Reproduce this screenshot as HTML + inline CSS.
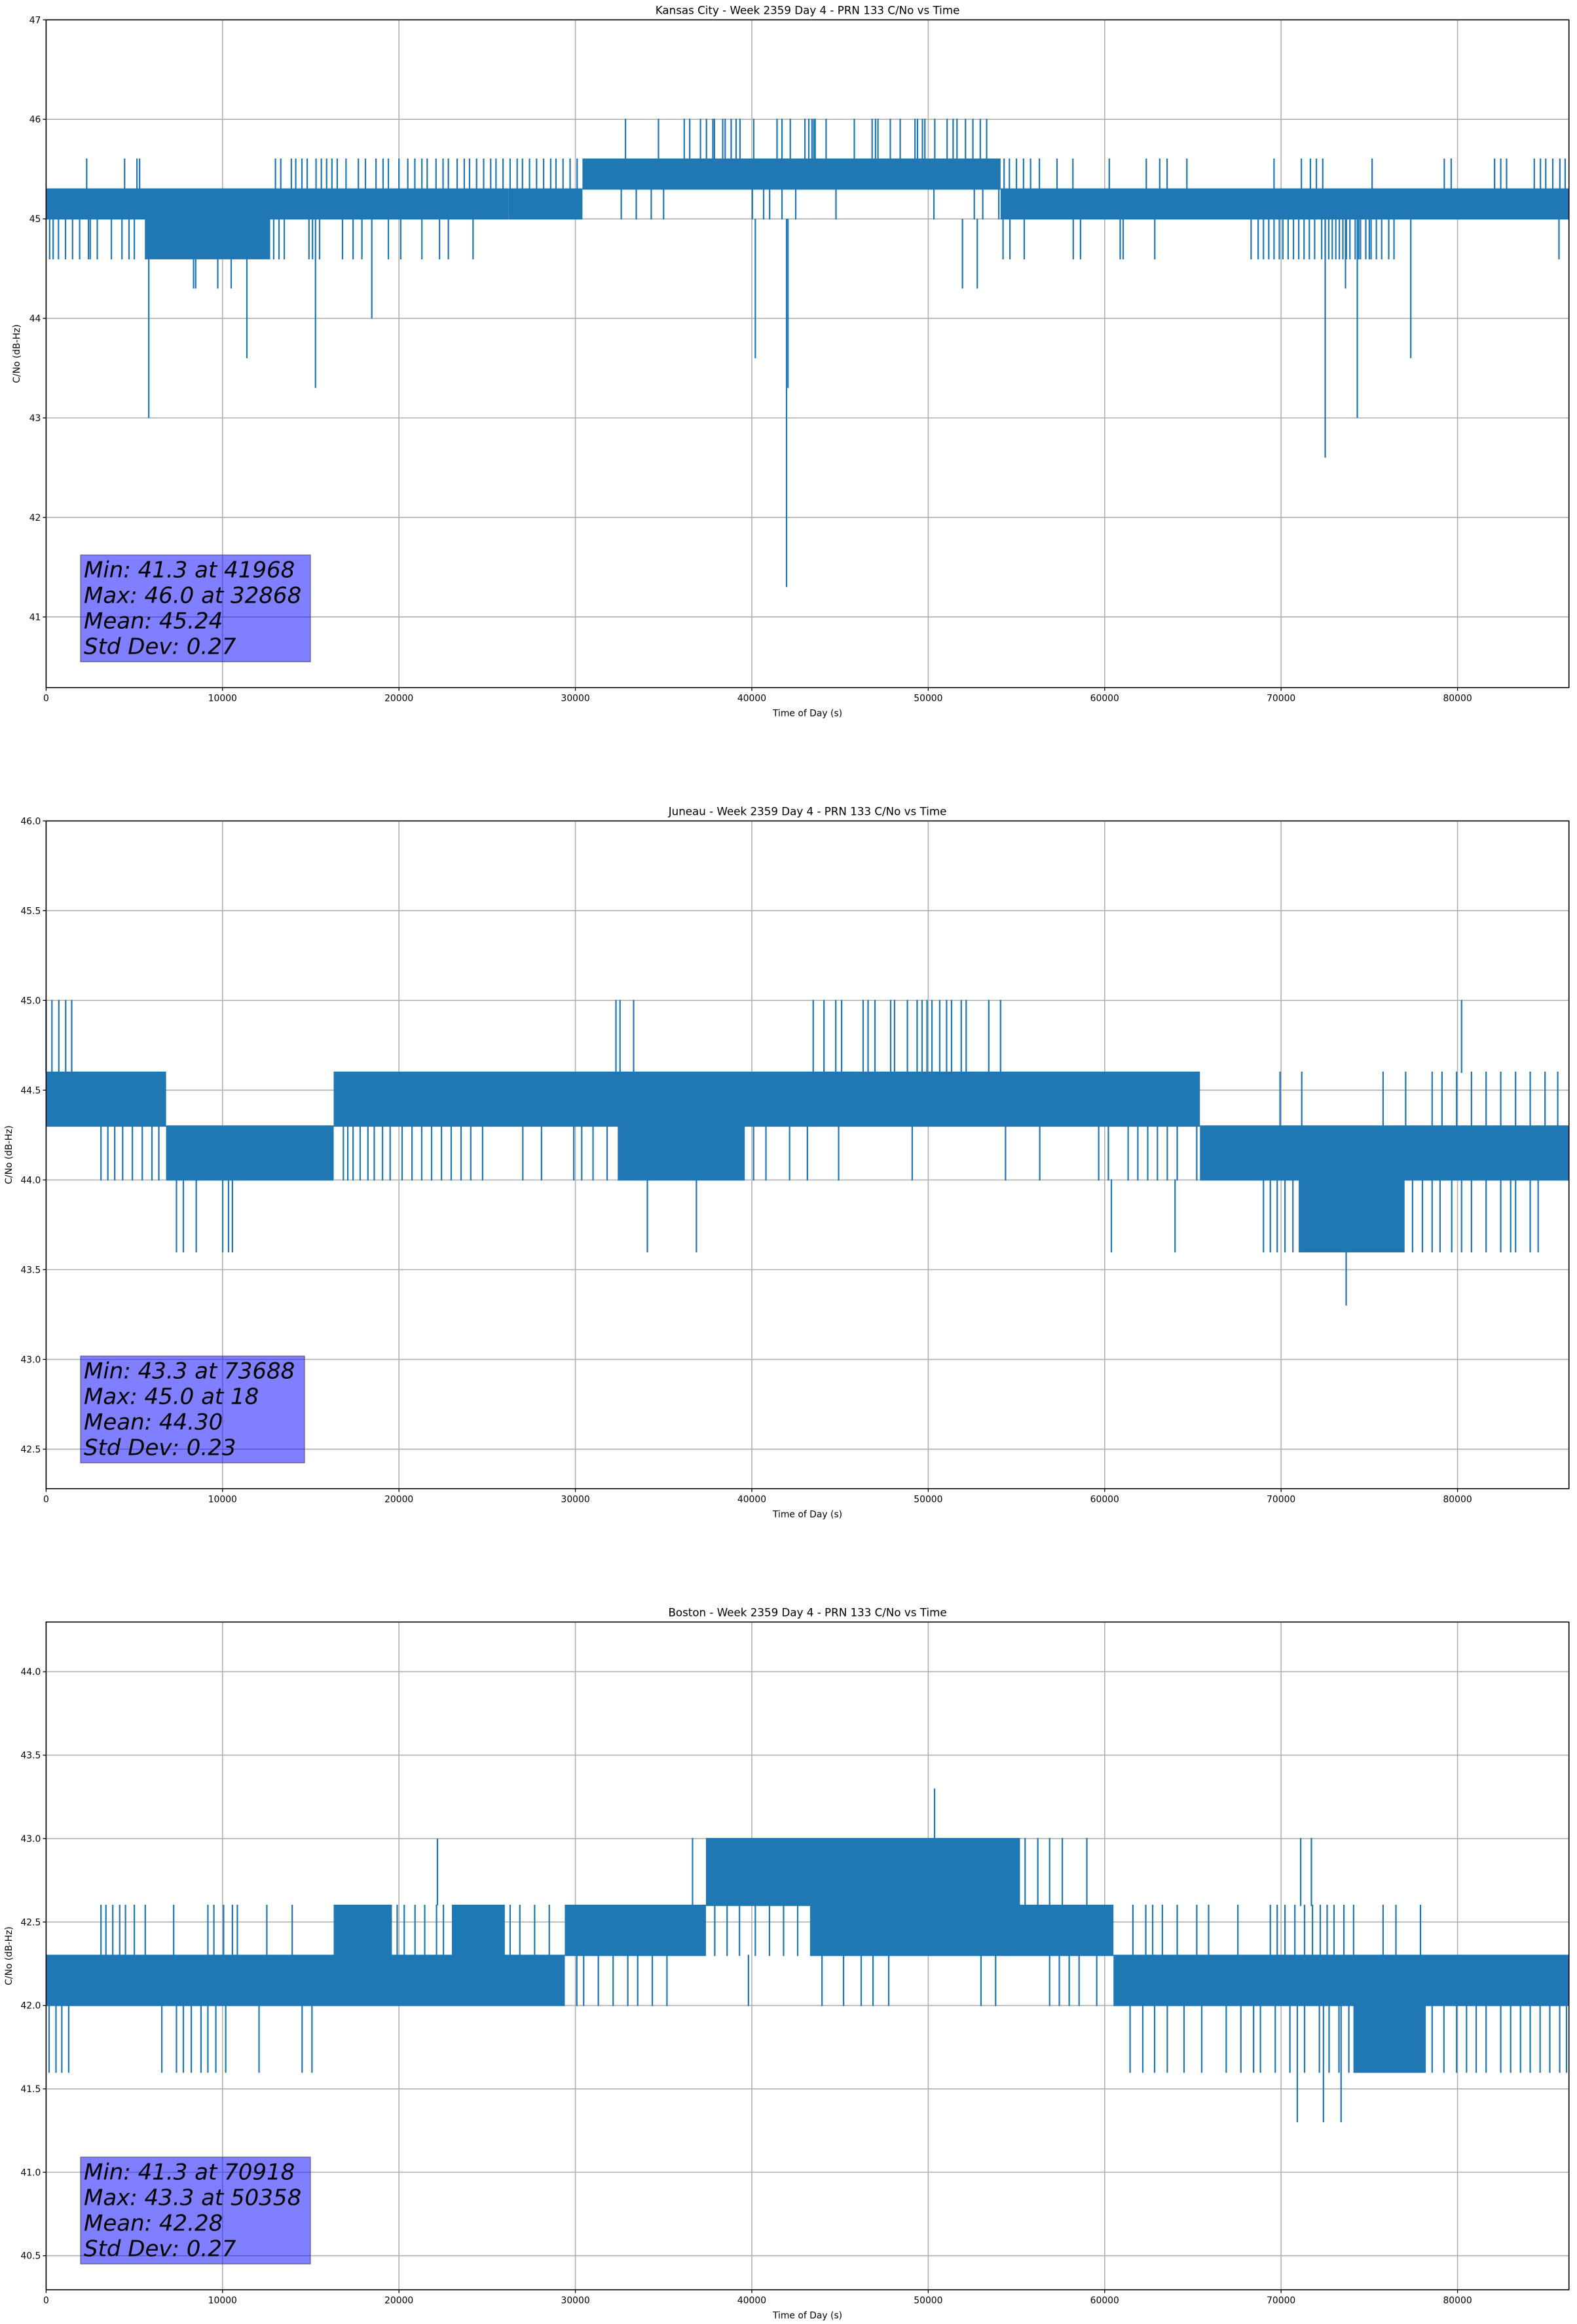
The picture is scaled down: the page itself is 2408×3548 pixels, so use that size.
<!DOCTYPE html>
<html><head><meta charset="utf-8">
<style>
html,body{margin:0;padding:0;background:#fff;}
svg{display:block;font-family:"DejaVu Sans","Liberation Sans",sans-serif;}
</style></head>
<body>
<svg id="fig" xmlns="http://www.w3.org/2000/svg" width="2408" height="3548" viewBox="0 0 2408 3548">
<rect x="0" y="0" width="2408" height="3548" fill="#fff"/>
</svg>
<script>
// ---------- shared x axis ----------
const xTickValues = [0,10000,20000,30000,40000,50000,60000,70000,80000];
const xDomainMax = 86315;

// ---------- Kansas City ----------
const kcTitle = "Kansas City - Week 2359 Day 4 - PRN 133 C/No vs Time";
const kcYRange = [40.29, 47];
const kcYTicks = [41,42,43,44,45,46,47];
const kcYTickLabels = ["41","42","43","44","45","46","47"];
const kcBands = [[0,26200,45.0,45.3],[26200,30400,45.0,45.3],[54100,86300,45.0,45.3],[5600,12700,44.6,45.0],[30400,54100,45.3,45.6]];
const kcUp456 = [2300,4450,5150,5300,13000,13300,13900,14150,14500,14800,15300,15600,15900,16200,16500,17000,17700,18100,18700,19100,19400,20000,20500,20900,21300,21600,22100,22500,22800,23300,23700,24000,24400,24800,25200,25500,25900,26300,26700,27000,27400,27800,28200,28600,28900,29300,29700,30100,54300,54600,55000,55400,55800,56300,57300,58200,60260,62360,63120,63540,64660,69600,71150,71660,72000,72360,75160,79250,79640,82100,82450,82780,84350,84700,85000,85400,85800,86100];
const kcMid450 = [32600,33450,34300,35000,40030,40670,41010,41710,42490,44770,50320,52610,53090,54000];
const kcDown446 = [200,400,700,1100,1500,1900,2400,2500,2900,3700,4300,4700,5000,12900,13200,13500,14900,15100,15500,16800,17400,17900,19400,20100,21300,22300,22800,24200,54240,54630,55440,58220,58630,60880,61050,62840,68300,68700,69000,69300,69600,69900,70100,70400,70700,71000,71300,71600,71900,72300,72500,72700,72900,73100,73300,73500,73700,73900,74200,74400,74500,74800,75000,75100,75400,75700,76100,76400,85750];
const kcUp460 = [32840,34710,36170,36480,37090,37430,37790,37880,38350,38490,38830,39110,39330,40110,41430,41710,42180,43010,43230,43410,43510,43590,44210,45810,46820,47010,47150,47850,48410,49250,49390,49670,49810,50370,51070,51410,51630,52110,52530,52950,53310];
const kcDeepTimes = [5820,8360,8480,9730,10490,11380,15270,18460,40200,41968,42050,51940,52780,72500,73650,74320,77350];
const kcDeepValues = [43.0,44.3,44.3,44.3,44.3,43.6,43.3,44.0,43.6,41.3,43.3,44.3,44.3,42.6,44.3,43.0,43.6];
const kcStats = ["Min: 41.3 at 41968","Max: 46.0 at 32868","Mean: 45.24","Std Dev: 0.27"];

// ---------- Juneau ----------
const jnTitle = "Juneau - Week 2359 Day 4 - PRN 133 C/No vs Time";
const jnYRange = [42.28, 46.0];
const jnYTicks = [42.5,43.0,43.5,44.0,44.5,45.0,45.5,46.0];
const jnYTickLabels = ["42.5","43.0","43.5","44.0","44.5","45.0","45.5","46.0"];
const jnBands = [[0,6800,44.3,44.6],[6800,16300,44.0,44.3],[16300,65400,44.3,44.6],[32400,39600,44.0,44.3],[65400,86300,44.0,44.3],[71000,77000,43.6,44.0]];
const jnDown440 = [3110,3500,3890,4340,4890,5450,6000,6390,16850,17100,17400,17800,18240,18600,19070,19500,20180,20740,21290,21850,22410,22960,23520,24070,24740,27020,28080,29910,30360,31000,31800,40100,40800,42140,43150,44920,49090,54380,56320,59660,60210,61330,61880,62440,62990,63550,64110,65220];
const jnUp450 = [0,330,720,1110,1450,32300,32530,33300,43480,44090,44760,45090,46310,46590,46980,47870,48090,48820,49370,49650,49930,50210,50650,51040,51320,51870,52150,53430,54100,80230];
const jnUp446 = [69940,71170,75780,77060,78560,79120,79950,80790,81620,82450,83290,84120,84960,85680];
const jnDown436 = [7390,7780,8510,10010,10340,10560,34080,36860,60380,63990,69000,69390,69780,70220,70670,71050,77450,78010,78560,79010,79670,80230,80790,81620,82450,83010,83290,84120,84570];
const jnDeepTimes = [73688];
const jnDeepValues = [43.3];
const jnStats = ["Min: 43.3 at 73688","Max: 45.0 at 18","Mean: 44.30","Std Dev: 0.23"];

// ---------- Boston ----------
const bsTitle = "Boston - Week 2359 Day 4 - PRN 133 C/No vs Time";
const bsYRange = [40.296, 44.298];
const bsYTicks = [40.5,41.0,41.5,42.0,42.5,43.0,43.5,44.0];
const bsYTickLabels = ["40.5","41.0","41.5","42.0","42.5","43.0","43.5","44.0"];
const bsBands = [[0,29400,42.0,42.3],[60500,86300,42.0,42.3],[16300,19600,42.3,42.6],[23000,26000,42.3,42.6],[29400,37400,42.3,42.6],[43300,60500,42.3,42.6],[37400,55200,42.6,43.0],[74100,78200,41.6,42.0]];
const bsDown416 = [170,560,890,1280,6560,7390,7780,8230,8780,9170,9620,10180,12070,14510,15070,61440,62160,62830,63550,64500,65500,66890,67720,68440,68830,69670,70500,71330,72170,72720,73280,73840,78560,79230,79950,80510,81060,81620,82450,83010,83570,84120,84680,85230,85790,86180];
const bsUp426 = [3110,3390,3780,4170,4500,5000,5620,7230,9170,9510,10060,10560,10840,12510,13950,19900,20300,20910,21460,22130,22520,26300,26850,27690,28520,37900,38600,39300,40200,41000,41800,42600,61600,62330,62720,63270,64110,65220,65890,67550,69390,69780,70220,70780,71330,71780,72220,72610,73000,73560,74110,75780,76510,77900];
const bsUp430 = [36640,55490,56210,56880,57600,58990,71110,71720];
const bsMid420 = [30080,30470,31300,32140,32970,33530,34360,35190,39810,43980,45200,46200,46870,47760,52990,53820,56880,57430,57990,58550,59550];
const bsDeepTimes = [70918,72400,73400];
const bsDeepValues = [41.3,41.3,41.3];
const bsPeakTimes = [22180,50358];
const bsPeakValues = [43.0,43.3];
const bsStats = ["Min: 41.3 at 70918","Max: 43.3 at 50358","Mean: 42.28","Std Dev: 0.27"];

// ---------- rendering ----------
const NS = "http://www.w3.org/2000/svg";
const svg = document.getElementById('fig');
const LEFT = 70.4, RIGHT = 2395.7, AXH = 1019.4;
const BLUE = "#1f77b4";
function mk(tag, attrs, parent){
  const e = document.createElementNS(NS, tag);
  for (const k in attrs) e.setAttribute(k, attrs[k]);
  parent.appendChild(e);
  return e;
}
function xScale(t){ return LEFT + (t / xDomainMax) * (RIGHT - LEFT); }

function drawPlot(cfg){
  const top = cfg.top, bot = top + AXH;
  const [ymin, ymax] = cfg.yRange;
  const y = v => top + (ymax - v) / (ymax - ymin) * AXH;
  const g = mk('g', {}, svg);
  
  

  const grid = mk('g', {stroke:'#b0b0b0','stroke-width':'1.6'}, g);
  
  
  xTickValues.forEach(t => { mk('line',{x1:xScale(t),x2:xScale(t),y1:top,y2:bot},grid); });
  cfg.yTicks.forEach(v => { mk('line',{x1:LEFT,x2:RIGHT,y1:y(v),y2:y(v)},grid); });

  const dg = mk('g', {}, g);
  
  
  cfg.bands.forEach(b => {
    const r = mk('rect',{x:xScale(b[0]),y:y(b[3])-1,width:xScale(b[1])-xScale(b[0]),height:y(b[2])-y(b[3])+2,fill:BLUE},dg);
    
    
  });
  cfg.spikes.forEach(s => {
    const lo = s[0], hi = s[1];
    s[2].forEach(t => {
      const l = mk('line',{x1:xScale(t),x2:xScale(t),y1:y(lo)+1,y2:y(hi)-1,stroke:BLUE,'stroke-width':'2.2'},dg);
      
      
    });
  });
  cfg.deepT.forEach((t,i) => {
    const l = mk('line',{x1:xScale(t),x2:xScale(t),y1:y(cfg.deepFrom),y2:y(cfg.deepV[i]),stroke:BLUE,'stroke-width':'2.2'},dg);
    
    
  });
  (cfg.peakT||[]).forEach((t,i) => {
    const l = mk('line',{x1:xScale(t),x2:xScale(t),y1:y(cfg.peakFrom),y2:y(cfg.peakV[i]),stroke:BLUE,'stroke-width':'2.2'},dg);
    
    
  });

  const fr = mk('rect',{x:LEFT,y:top,width:RIGHT-LEFT,height:AXH,fill:'none',stroke:'#000','stroke-width':'1.6'},g);
  
  

  const xt = mk('g',{},g);
  
  
  xTickValues.forEach(t => {
    mk('line',{x1:xScale(t),x2:xScale(t),y1:bot,y2:bot+5,stroke:'#000','stroke-width':'1.3'},xt);
    const tx = mk('text',{x:xScale(t),y:bot+21,'text-anchor':'middle','font-size':'13.9',fill:'#000'},xt);
    tx.textContent = String(t);
    
    
  });
  const yt = mk('g',{},g);
  
  
  cfg.yTicks.forEach((v,i) => {
    mk('line',{x1:LEFT-5,x2:LEFT,y1:y(v),y2:y(v),stroke:'#000','stroke-width':'1.3'},yt);
    const tx = mk('text',{x:LEFT-8,y:y(v)+5,'text-anchor':'end','font-size':'13.9',fill:'#000'},yt);
    tx.textContent = cfg.yTickLabels[i];
    
    
  });

  const xl = mk('text',{x:(LEFT+RIGHT)/2,y:bot+44,'text-anchor':'middle','font-size':'13.9',fill:'#000'},g);
  xl.textContent = 'Time of Day (s)';
  
  
  const yl = mk('text',{x:0,y:0,'text-anchor':'middle','font-size':'13.9',fill:'#000',transform:`translate(${cfg.ylabelX},${top+AXH/2}) rotate(-90)`},g);
  yl.textContent = 'C/No (dB-Hz)';
  
  
  const ti = mk('text',{x:(LEFT+RIGHT)/2,y:top-9,'text-anchor':'middle','font-size':'16.7',fill:'#000'},g);
  ti.textContent = cfg.title;
  
  

  const sb = mk('g',{},g);
  
  
  mk('rect',{x:123,y:top+817,width:cfg.boxW,height:163,fill:'rgba(0,0,255,0.5)',stroke:'rgba(60,60,90,0.6)','stroke-width':'1.5'},sb);
  cfg.stats.forEach((s,i) => {
    const tx = mk('text',{x:128,y:top+851+i*39,'font-size':'34','font-style':'italic',fill:'#000'},sb);
    tx.textContent = s;
    
    
  });
}

drawPlot({name:'kansas-city', top:30.3, yRange:kcYRange, yTicks:kcYTicks, yTickLabels:kcYTickLabels, title:kcTitle,
  bands:kcBands,
  spikes:[[45.3,45.6,kcUp456],[45.0,45.3,kcMid450],[44.6,45.0,kcDown446],[45.6,46.0,kcUp460]],
  deepFrom:45.0, deepT:kcDeepTimes, deepV:kcDeepValues, stats:kcStats, boxW:351, ylabelX:30});
drawPlot({name:'juneau', top:1253.3, yRange:jnYRange, yTicks:jnYTicks, yTickLabels:jnYTickLabels, title:jnTitle,
  bands:jnBands,
  spikes:[[44.0,44.3,jnDown440],[44.6,45.0,jnUp450],[44.3,44.6,jnUp446],[43.6,44.0,jnDown436]],
  deepFrom:44.0, deepT:jnDeepTimes, deepV:jnDeepValues, stats:jnStats, boxW:342, ylabelX:18});
drawPlot({name:'boston', top:2476.3, yRange:bsYRange, yTicks:bsYTicks, yTickLabels:bsYTickLabels, title:bsTitle,
  bands:bsBands,
  spikes:[[41.6,42.0,bsDown416],[42.3,42.6,bsUp426],[42.6,43.0,bsUp430],[42.0,42.3,bsMid420]],
  deepFrom:42.0, deepT:bsDeepTimes, deepV:bsDeepValues, peakFrom:42.6, peakT:bsPeakTimes, peakV:bsPeakValues,
  stats:bsStats, boxW:351, ylabelX:18});
</script>
</body></html>
